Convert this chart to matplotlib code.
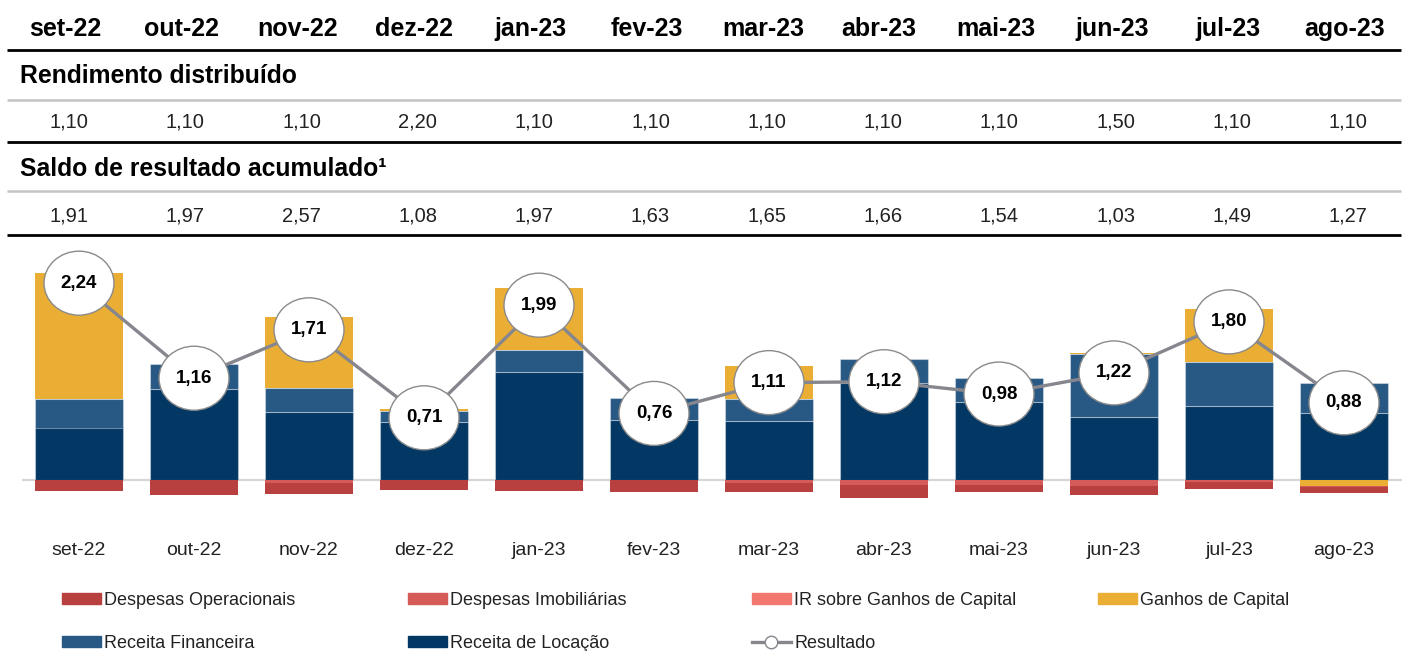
import matplotlib
matplotlib.use("Agg")
import matplotlib.pyplot as plt
from matplotlib.patches import Ellipse, Patch
from matplotlib.lines import Line2D
import numpy as np

plt.rcParams['font.family'] = ['Liberation Sans', 'DejaVu Sans']

months = ["set-22", "out-22", "nov-22", "dez-22", "jan-23", "fev-23",
          "mar-23", "abr-23", "mai-23", "jun-23", "jul-23", "ago-23"]
rendimento = [1.10, 1.10, 1.10, 2.20, 1.10, 1.10, 1.10, 1.10, 1.10, 1.50, 1.10, 1.10]
saldo = [1.91, 1.97, 2.57, 1.08, 1.97, 1.63, 1.65, 1.66, 1.54, 1.03, 1.49, 1.27]

receita_locacao = [0.60, 1.04, 0.78, 0.66, 1.23, 0.69, 0.67, 1.10, 0.89, 0.72, 0.84, 0.76]
receita_financeira = [0.32, 0.28, 0.27, 0.13, 0.25, 0.25, 0.25, 0.28, 0.27, 0.72, 0.50, 0.34]
ganhos_capital = [1.44, 0.00, 0.81, 0.02, 0.70, 0.00, 0.38, 0.00, 0.00, 0.01, 0.61, -0.06]
ir_ganhos = [0.0] * 12
despesas_imob = [0.00, 0.00, 0.03, 0.00, 0.00, 0.00, 0.03, 0.05, 0.05, 0.07, 0.02, 0.015]
despesas_oper = [0.12, 0.17, 0.12, 0.11, 0.12, 0.13, 0.10, 0.15, 0.08, 0.10, 0.08, 0.07]
resultado = [2.24, 1.16, 1.71, 0.71, 1.99, 0.76, 1.11, 1.12, 0.98, 1.22, 1.80, 0.88]

C_OPER = "#b8403f"
C_IMOB = "#d45b57"
C_IR = "#f2776f"
C_GAN = "#ebae34"
C_FIN = "#285884"
C_LOC = "#033764"
C_LINE = "#86868e"

W, H = 1413, 651
fig = plt.figure(figsize=(W / 100, H / 100), dpi=100)


def fx(x):
    return x / W


def fy(y):
    return 1 - y / H


# ---------------- header table ----------------
def hline(y, color, lw):
    fig.add_artist(Line2D([fx(7), fx(1401)], [fy(y), fy(y)], color=color, lw=lw,
                          solid_capstyle='butt'))


for i, m in enumerate(months):
    fig.text(fx(65 + 116.3 * i), fy(36), m, ha='center', va='baseline',
             fontsize=18, fontweight='bold', color='black')
hline(50, 'black', 2.0)
fig.text(fx(20), fy(83), "Rendimento distribuído", ha='left', va='baseline',
         fontsize=17.8, fontweight='bold')
hline(99.5, '#c4c4c4', 1.8)
for i, v in enumerate(rendimento):
    fig.text(fx(69 + 116.3 * i), fy(128), f"{v:.2f}".replace('.', ','), ha='center',
             va='baseline', fontsize=14.5, color='#222222')
hline(142, 'black', 2.0)
fig.text(fx(20), fy(176), "Saldo de resultado acumulado¹", ha='left', va='baseline',
         fontsize=17.8, fontweight='bold')
hline(190.5, '#c4c4c4', 1.8)
for i, v in enumerate(saldo):
    fig.text(fx(69 + 116.3 * i), fy(221.5), f"{v:.2f}".replace('.', ','), ha='center',
             va='baseline', fontsize=14.5, color='#222222')
hline(235, 'black', 2.0)

# ---------------- chart ----------------
base_px = 480.3
scale = 88.0
top_px, bot_px = 245, 500
ax = fig.add_axes([fx(21.5), fy(bot_px), (1401.5 - 21.5) / W, (bot_px - top_px) / H])
ax.set_xlim(-0.5, 11.5)
ax.set_ylim(-(bot_px - base_px) / scale, (base_px - top_px) / scale)
for s in ax.spines.values():
    s.set_visible(False)
ax.set_yticks([])
x = np.arange(len(months))
ax.set_xticks(x)
ax.set_xticklabels(months, fontsize=14, color='#222222')
ax.tick_params(axis='x', length=0, pad=30.5)
ax.patch.set_alpha(0)

bw = 88 / 115
ec = (1, 1, 1, 0.35)
ax.axhline(0, color='#d6d6d6', lw=1.6, zorder=0.5)

loc = np.array(receita_locacao)
fin = np.array(receita_financeira)
gan = np.array(ganhos_capital)
gan_pos = np.clip(gan, 0, None)
gan_neg = np.clip(gan, None, 0)
ax.bar(x, loc, bw, color=C_LOC, edgecolor=ec, lw=0.8, zorder=2)
ax.bar(x, fin, bw, bottom=loc, color=C_FIN, edgecolor=ec, lw=0.8, zorder=2)
ax.bar(x, gan_pos, bw, bottom=loc + fin, color=C_GAN, edgecolor=ec, lw=0.0, zorder=2)

neg_bottom = gan_neg.copy()
ax.bar(x, gan_neg, bw, color=C_GAN, lw=0, zorder=2)
ir = -np.array(ir_ganhos)
ax.bar(x, ir, bw, bottom=neg_bottom, color=C_IR, lw=0, zorder=2)
neg_bottom = neg_bottom + ir
imb = -np.array(despesas_imob)
ax.bar(x, imb, bw, bottom=neg_bottom, color=C_IMOB, lw=0, zorder=2)
neg_bottom = neg_bottom + imb
opr = -np.array(despesas_oper)
ax.bar(x, opr, bw, bottom=neg_bottom, color=C_OPER, lw=0, zorder=2)

ax.plot(x, resultado, color=C_LINE, lw=2.4, zorder=4)
ew = 70 / 115
eh = 64 / scale
for xi, r in zip(x, resultado):
    ax.add_patch(Ellipse((xi, r), ew, eh, facecolor='white', edgecolor='#8a8a8a',
                         lw=1.0, zorder=5))
    ax.text(xi, r, f"{r:.2f}".replace('.', ','), ha='center', va='center',
            fontsize=13.5, fontweight='bold', color='black', zorder=6)

# ---------------- legend ----------------
leg_items = [
    [Patch(color=C_OPER, label="Despesas Operacionais"),
     Patch(color=C_FIN, label="Receita Financeira")],
    [Patch(color=C_IMOB, label="Despesas Imobiliárias"),
     Patch(color=C_LOC, label="Receita de Locação")],
    [Patch(color=C_IR, label="IR sobre Ganhos de Capital"),
     Line2D([0], [0], color=C_LINE, lw=2.4, marker='o', markersize=9,
            markerfacecolor='white', markeredgecolor=C_LINE, label="Resultado")],
    [Patch(color=C_GAN, label="Ganhos de Capital")],
]
col_x = [62, 408, 752, 1098]
for cx, items in zip(col_x, leg_items):
    fig.legend(handles=items, loc='upper left', bbox_to_anchor=(fx(cx), fy(592)),
               frameon=False, fontsize=13, handlelength=2.15, handleheight=0.55,
               handletextpad=0.2, labelspacing=1.42, borderpad=0, borderaxespad=0,
               labelcolor='#222222')

fig.savefig("out.png", dpi=100)
